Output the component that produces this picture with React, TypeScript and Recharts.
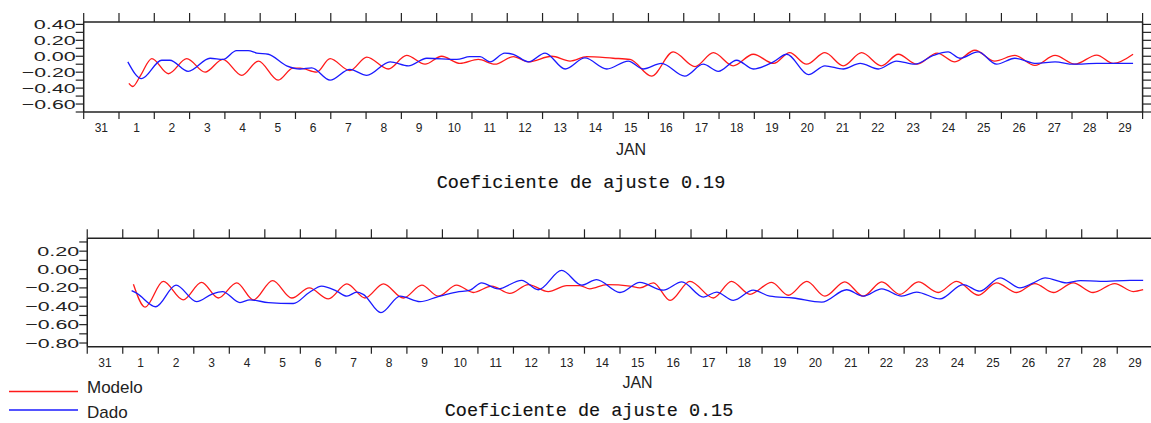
import React from "react";
import { LineChart, Line, XAxis, YAxis } from "recharts";

// Tiempo en días desde 31 DIC 00:00 (0 = 31, 1 = 1 JAN, ..., 30 = 30 JAN)
const dayTicks = [
  0, 1, 2, 3, 4, 5, 6, 7, 8, 9, 10, 11, 12, 13, 14, 15, 16, 17, 18, 19, 20,
  21, 22, 23, 24, 25, 26, 27, 28, 29, 30,
];
const dayLabels = [
  "31", "1", "2", "3", "4", "5", "6", "7", "8", "9", "10", "11", "12", "13",
  "14", "15", "16", "17", "18", "19", "20", "21", "22", "23", "24", "25",
  "26", "27", "28", "29",
];

// Panel superior (coeficiente 0.19)
const topModeloT = [
  1.28, 1.39, 1.6, 1.93, 2.4, 2.92, 3.44, 3.94, 4.48, 4.95, 5.51, 5.93, 6.13,
  6.6, 6.98, 7.54, 8.02, 8.63, 9.15, 9.67, 10.14, 10.66, 11.18, 11.65, 12.17,
  12.6, 13.26, 13.78, 14.25, 15.0, 15.48, 16.09, 16.7, 17.32, 17.84, 18.4,
  18.97, 19.55, 20.0, 20.48, 21.0, 21.52, 22.04, 22.6, 23.08, 23.6, 24.18,
  24.68, 25.25, 25.81, 26.38, 26.95, 27.52, 28.08, 28.7, 29.17, 29.73,
];
const topModeloV = [
  -0.34, -0.38, -0.25, -0.03, -0.22, -0.03, -0.2, -0.04, -0.24, -0.06, -0.3,
  -0.15, -0.15, -0.2, -0.03, -0.18, -0.01, -0.16, 0.01, -0.1, 0.0, -0.09,
  -0.04, -0.1, -0.005, -0.07, 0.0, -0.06, -0.005, -0.025, -0.04, -0.25, 0.055,
  -0.13, 0.045, -0.12, 0.025, -0.09, 0.045, -0.1, 0.045, -0.12, 0.045, -0.12,
  0.025, -0.1, 0.04, -0.07, 0.075, -0.06, 0.01, -0.115, 0.01, -0.1, 0.015,
  -0.09, 0.025,
];
const topDadoT = [
  1.25, 1.64, 2.21, 2.44, 2.96, 3.58, 3.95, 4.33, 4.66, 4.9, 5.23, 5.75, 6.13,
  6.46, 6.98, 7.54, 8.02, 8.68, 9.2, 9.72, 10.57, 10.94, 11.23, 11.51, 11.93,
  12.17, 12.6, 13.07, 13.64, 14.2, 14.82, 15.43, 15.85, 16.37, 17.03, 17.55,
  17.98, 18.5, 18.97, 19.54, 19.92, 20.53, 21.0, 21.52, 22.0, 22.51, 23.03,
  23.55, 24.07, 24.49, 24.82, 25.34, 25.86, 26.38, 26.99, 27.52, 28.04, 28.7,
  29.73,
];
const topDadoV = [
  -0.07, -0.28, -0.05, -0.05, -0.19, -0.025, -0.04, 0.07, 0.07, 0.04, 0.025,
  -0.12, -0.16, -0.145, -0.3, -0.165, -0.24, -0.07, -0.12, -0.025, -0.04,
  -0.005, -0.005, -0.07, 0.04, 0.025, -0.07, 0.04, -0.16, -0.02, -0.16, -0.06,
  -0.16, -0.09, -0.25, -0.1, -0.19, -0.05, -0.16, -0.07, 0.025, -0.23, -0.12,
  -0.16, -0.09, -0.16, -0.06, -0.1, 0.01, 0.055, -0.025, 0.055, -0.1, -0.025,
  -0.09, -0.07, -0.1, -0.09, -0.09,
];

// Panel inferior (coeficiente 0.15)
const botModeloT = [
  1.3, 1.63, 2.14, 2.7, 3.22, 3.69, 4.21, 4.68, 5.22, 5.76, 6.25, 6.79, 7.31,
  7.82, 8.34, 8.9, 9.42, 9.88, 10.4, 10.87, 11.39, 11.9, 12.42, 12.98, 13.5,
  13.87, 14.15, 14.63, 15.28, 15.56, 15.94, 16.41, 16.97, 17.63, 18.14, 18.66,
  19.27, 19.74, 20.26, 20.77, 21.33, 21.85, 22.37, 22.88, 23.4, 23.96, 24.48,
  25.09, 25.6, 26.17, 26.68, 27.2, 27.76, 28.32, 28.93, 29.45, 29.73,
];
const botModeloV = [
  -0.16, -0.41, -0.13, -0.33, -0.14, -0.31, -0.145, -0.33, -0.12, -0.31, -0.2,
  -0.32, -0.156, -0.31, -0.156, -0.31, -0.17, -0.29, -0.17, -0.25, -0.18,
  -0.26, -0.164, -0.24, -0.175, -0.175, -0.21, -0.164, -0.18, -0.2, -0.145,
  -0.335, -0.128, -0.31, -0.128, -0.27, -0.14, -0.28, -0.13, -0.29, -0.135,
  -0.29, -0.135, -0.27, -0.135, -0.25, -0.128, -0.28, -0.145, -0.25, -0.153,
  -0.25, -0.145, -0.25, -0.153, -0.24, -0.22,
];
const botDadoT = [
  1.25, 1.4, 1.93, 2.5, 3.08, 3.5, 3.81, 4.3, 4.58, 5.1, 5.8, 6.25, 6.6, 7.02,
  7.31, 7.59, 7.77, 8.27, 8.81, 9.37, 9.84, 10.4, 10.78, 11.1, 11.57, 12.23,
  12.7, 13.36, 13.92, 14.34, 15.0, 15.56, 16.22, 16.74, 17.35, 17.72, 18.19,
  18.75, 19.22, 19.88, 20.68, 21.38, 21.85, 22.37, 22.93, 23.35, 24.01, 24.66,
  25.13, 25.7, 26.26, 26.64, 26.97, 27.58, 27.96, 28.52, 29.36, 29.73,
];
const botDadoV = [
  -0.23, -0.26, -0.405, -0.17, -0.35, -0.27, -0.24, -0.36, -0.33, -0.36, -0.37,
  -0.25, -0.18, -0.235, -0.29, -0.245, -0.27, -0.47, -0.29, -0.35, -0.3,
  -0.245, -0.225, -0.145, -0.21, -0.117, -0.22, -0.01, -0.17, -0.11, -0.25,
  -0.14, -0.225, -0.135, -0.3, -0.245, -0.335, -0.225, -0.29, -0.31, -0.355,
  -0.22, -0.29, -0.21, -0.29, -0.245, -0.32, -0.164, -0.235, -0.09, -0.2,
  -0.145, -0.09, -0.145, -0.12, -0.128, -0.117, -0.117,
];

const topYTicks = [0.4, 0.3, 0.2, 0.1, 0, -0.1, -0.2, -0.3, -0.4, -0.5, -0.6, -0.7];
const botYTicks = [0.3, 0.2, 0.1, 0, -0.1, -0.2, -0.3, -0.4, -0.5, -0.6, -0.7, -0.8];

const AXIS = "#222";
const SANS = "'Liberation Sans', Arial, sans-serif";
const MONO = "'Liberation Mono', 'Courier New', monospace";

const pts = (t: number[], v: number[]) => t.map((x, i) => ({ t: x, v: v[i] }));

const EmptyTick = () => <g />;

const makeXTick = (dayPx: number) => (props: any) => {
  const { x, y, payload } = props;
  const n = payload.value;
  if (n >= 30) return <g />;
  return (
    <text x={x + dayPx / 2} y={y + 11} textAnchor="middle" fontSize={12} fontFamily={SANS} fill={AXIS}>
      {dayLabels[n]}
    </text>
  );
};

const YTick = (props: any) => {
  const { x, y, payload } = props;
  const v = payload.value;
  const k = Math.round(v * 10);
  if (k % 2 !== 0) return <g />;
  const neg = k < 0;
  const label = (neg ? "\u2212" : "") + Math.abs(v).toFixed(2);
  const len = neg ? 54 : 42;
  return (
    <text
      x={x - len}
      y={y}
      dominantBaseline="central"
      fontSize={13}
      fontFamily={SANS}
      fill={AXIS}
      textLength={len}
      lengthAdjust="spacingAndGlyphs"
    >
      {label}
    </text>
  );
};

type PanelProps = {
  top: number;
  leftW: number;
  plotW: number;
  rightW: number;
  topH: number;
  plotH: number;
  bottomH: number;
  domain: [number, number];
  yTicks: number[];
  modelo: { t: number; v: number }[];
  dado: { t: number; v: number }[];
};

function Panel(p: PanelProps) {
  const width = p.leftW + p.plotW + p.rightW;
  const height = p.topH + p.plotH + p.bottomH;
  const dayPx = p.plotW / 30;
  const axisLine = { stroke: AXIS, strokeWidth: 1.5 };
  const tickLine = { stroke: AXIS, strokeWidth: 1.2 };
  return (
    <div style={{ position: "absolute", left: 0, top: p.top }}>
      <LineChart width={width} height={height} margin={{ top: 0, right: 0, bottom: 0, left: 0 }}>
        <XAxis
          xAxisId="b"
          dataKey="t"
          type="number"
          domain={[0, 30]}
          allowDataOverflow
          ticks={dayTicks}
          interval={0}
          height={p.bottomH}
          tickSize={7}
          tickMargin={2}
          axisLine={axisLine}
          tickLine={tickLine}
          tick={makeXTick(dayPx)}
        />
        <XAxis
          xAxisId="t"
          orientation="top"
          dataKey="t"
          type="number"
          domain={[0, 30]}
          allowDataOverflow
          ticks={dayTicks}
          interval={0}
          height={p.topH}
          tickSize={9}
          axisLine={axisLine}
          tickLine={tickLine}
          tick={EmptyTick}
        />
        <YAxis
          yAxisId="l"
          type="number"
          domain={p.domain}
          allowDataOverflow
          ticks={p.yTicks}
          interval={0}
          width={p.leftW}
          tickSize={8}
          tickMargin={0}
          axisLine={axisLine}
          tickLine={tickLine}
          tick={YTick}
        />
        <YAxis
          yAxisId="r"
          orientation="right"
          type="number"
          domain={p.domain}
          allowDataOverflow
          ticks={p.yTicks}
          interval={0}
          width={p.rightW}
          tickSize={10}
          axisLine={axisLine}
          tickLine={tickLine}
          tick={EmptyTick}
        />
        <Line
          xAxisId="b"
          yAxisId="l"
          data={p.modelo}
          dataKey="v"
          type="monotone"
          stroke="#ff1a1a"
          strokeWidth={1.3}
          dot={false}
          isAnimationActive={false}
        />
        <Line
          xAxisId="b"
          yAxisId="l"
          data={p.dado}
          dataKey="v"
          type="monotone"
          stroke="#1a1aff"
          strokeWidth={1.3}
          dot={false}
          isAnimationActive={false}
        />
      </LineChart>
    </div>
  );
}

export default function App() {
  return (
    <div
      style={{
        position: "absolute",
        left: 0,
        top: 0,
        width: 1151,
        height: 423,
        overflow: "hidden",
        background: "#fff",
      }}
    >
      <Panel
        top={0}
        leftW={83.7}
        plotW={1058.9}
        rightW={8.4}
        topH={22}
        plotH={90}
        bottomH={28}
        domain={[-0.7, 0.43]}
        yTicks={topYTicks}
        modelo={pts(topModeloT, topModeloV)}
        dado={pts(topDadoT, topDadoV)}
      />
      <Panel
        top={228}
        leftW={87.2}
        plotW={1065.6}
        rightW={10}
        topH={10.3}
        plotH={108.4}
        bottomH={30}
        domain={[-0.84, 0.34]}
        yTicks={botYTicks}
        modelo={pts(botModeloT, botModeloV)}
        dado={pts(botDadoT, botDadoV)}
      />
      <svg width={1151} height={423} style={{ position: "absolute", left: 0, top: 0, pointerEvents: "none" }}>
        <text x={631} y={155} textAnchor="middle" fontSize={16} fontFamily={SANS} fill={AXIS}>
          JAN
        </text>
        <text
          x={581}
          y={188}
          textAnchor="middle"
          fontSize={18.5}
          fontFamily={MONO}
          fill="#111"
          stroke="#111"
          strokeWidth={0.15}
        >
          Coeficiente de ajuste 0.19
        </text>
        <text x={637.5} y={388} textAnchor="middle" fontSize={16} fontFamily={SANS} fill={AXIS}>
          JAN
        </text>
        <text
          x={589}
          y={416}
          textAnchor="middle"
          fontSize={18.5}
          fontFamily={MONO}
          fill="#111"
          stroke="#111"
          strokeWidth={0.15}
        >
          Coeficiente de ajuste 0.15
        </text>
        <line x1={9} x2={78} y1={391.5} y2={391.5} stroke="#ff1a1a" strokeWidth={1.3} />
        <text x={87} y={393} fontSize={17} fontFamily={SANS} fill={AXIS}>
          Modelo
        </text>
        <line x1={9} x2={78} y1={410} y2={410} stroke="#1a1aff" strokeWidth={1.3} />
        <text x={87} y={418} fontSize={17} fontFamily={SANS} fill={AXIS}>
          Dado
        </text>
      </svg>
    </div>
  );
}
